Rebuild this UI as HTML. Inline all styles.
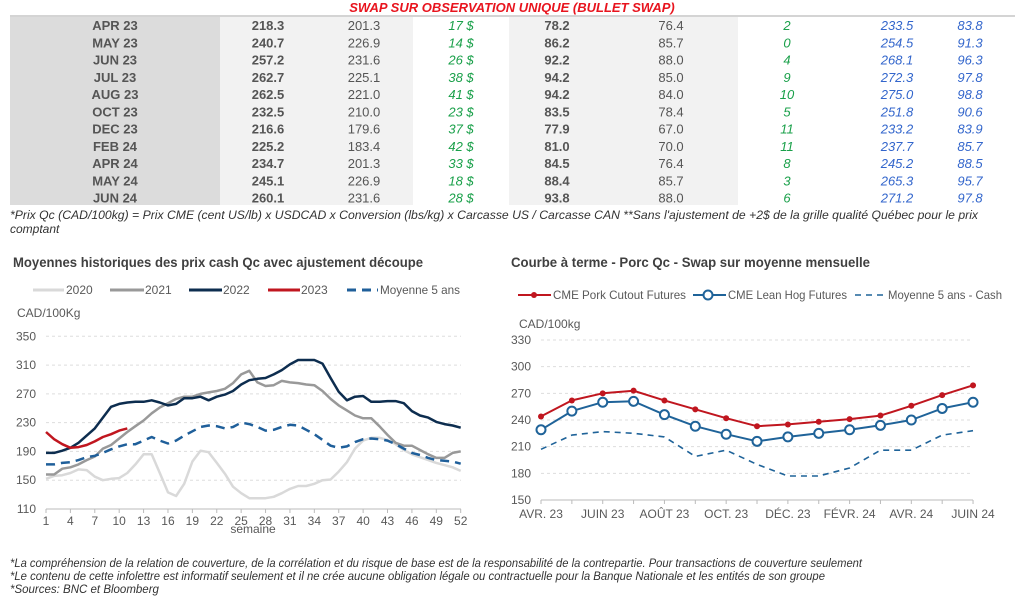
<!DOCTYPE html>
<html><head><meta charset="utf-8"><style>
body{margin:0;width:1024px;height:609px;background:#fff;font-family:"Liberation Sans",sans-serif;position:relative;overflow:hidden}
</style></head><body>
<svg width="1024" height="609" style="position:absolute;left:0;top:0" font-family="Liberation Sans, sans-serif">
<rect x="10" y="17" width="210" height="188" fill="#dcdcdc"/>
<rect x="220" y="17" width="193" height="188" fill="#f2f2f2"/>
<rect x="509" y="17" width="229" height="188" fill="#f2f2f2"/>
<line x1="10" y1="16" x2="1015" y2="16" stroke="#aaa" stroke-width="1"/>
<text x="512" y="12" font-size="13" font-weight="bold" font-style="italic" fill="#e8141e" text-anchor="middle">SWAP SUR OBSERVATION UNIQUE (BULLET SWAP)</text>
<g id="tbl" font-size="13"></g>
<text x="10" y="219" font-size="12" font-style="italic" fill="#333" textLength="968" lengthAdjust="spacingAndGlyphs">*Prix Qc (CAD/100kg) = Prix CME (cent US/lb) x USDCAD x Conversion (lbs/kg) x Carcasse US / Carcasse CAN **Sans l'ajustement de +2$ de la grille qualité Québec pour le prix</text>
<text x="10" y="233" font-size="12" font-style="italic" fill="#333">comptant</text>

<text x="13" y="267" font-size="13.5" font-weight="bold" fill="#404040" textLength="410" lengthAdjust="spacingAndGlyphs">Moyennes historiques des prix cash Qc avec ajustement découpe</text>
<g font-size="12" fill="#595959">
<line x1="33" y1="290" x2="64" y2="290" stroke="#d9d9d9" stroke-width="3"/><text x="66" y="294">2020</text>
<line x1="110" y1="290" x2="144" y2="290" stroke="#999" stroke-width="3"/><text x="145" y="294">2021</text>
<line x1="189" y1="290" x2="222" y2="290" stroke="#0d2d4f" stroke-width="3"/><text x="223" y="294">2022</text>
<line x1="268" y1="290" x2="300" y2="290" stroke="#c0161f" stroke-width="3"/><text x="301" y="294">2023</text>
<line x1="347" y1="290" x2="378" y2="290" stroke="#1f5f9a" stroke-width="3" stroke-dasharray="9,6"/><text x="380" y="294" textLength="80" lengthAdjust="spacingAndGlyphs">Moyenne 5 ans</text>
<text x="17" y="317">CAD/100Kg</text>
</g>
<g id="L"></g>

<text x="511" y="267" font-size="13.5" font-weight="bold" fill="#404040" textLength="359" lengthAdjust="spacingAndGlyphs">Courbe à terme - Porc Qc - Swap sur moyenne mensuelle</text>
<g font-size="12" fill="#595959">
<line x1="518" y1="295" x2="551" y2="295" stroke="#c0161f" stroke-width="2"/><circle cx="534" cy="295" r="3" fill="#c0161f"/><text x="553" y="299" textLength="133" lengthAdjust="spacingAndGlyphs">CME Pork Cutout Futures</text>
<line x1="693" y1="295" x2="726" y2="295" stroke="#1f6399" stroke-width="2"/><circle cx="708" cy="295" r="4.5" fill="#fff" stroke="#1f6399" stroke-width="2"/><text x="728" y="299" textLength="119" lengthAdjust="spacingAndGlyphs">CME Lean Hog Futures</text>
<line x1="855" y1="295" x2="887" y2="295" stroke="#1f6399" stroke-width="1.5" stroke-dasharray="6,5"/><text x="888" y="299" textLength="114" lengthAdjust="spacingAndGlyphs">Moyenne 5 ans - Cash</text>
<text x="519" y="328">CAD/100kg</text>
</g>
<g id="R"></g>

<g font-size="11.5" font-style="italic" fill="#333">
<text x="10" y="567" textLength="852" lengthAdjust="spacingAndGlyphs">*La compréhension de la relation de couverture, de la corrélation et du risque de base est de la responsabilité de la contrepartie. Pour transactions de couverture seulement</text>
<text x="10" y="580" textLength="815" lengthAdjust="spacingAndGlyphs">*Le contenu de cette infolettre est informatif seulement et il ne crée aucune obligation légale ou contractuelle pour la Banque Nationale et les entités de son groupe</text>
<text x="10" y="593">*Sources: BNC et Bloomberg</text>
</g>
</svg>
<script>
var NS="http://www.w3.org/2000/svg";
function el(p,t,a,txt){var e=document.createElementNS(NS,t);for(var k in a)e.setAttribute(k,a[k]);if(txt!=null)e.textContent=txt;p.appendChild(e);return e;}
var rows=[["APR 23","218.3","201.3","17 $","78.2","76.4","2","233.5","83.8"],["MAY 23","240.7","226.9","14 $","86.2","85.7","0","254.5","91.3"],["JUN 23","257.2","231.6","26 $","92.2","88.0","4","268.1","96.3"],["JUL 23","262.7","225.1","38 $","94.2","85.0","9","272.3","97.8"],["AUG 23","262.5","221.0","41 $","94.2","84.0","10","275.0","98.8"],["OCT 23","232.5","210.0","23 $","83.5","78.4","5","251.8","90.6"],["DEC 23","216.6","179.6","37 $","77.9","67.0","11","233.2","83.9"],["FEB 24","225.2","183.4","42 $","81.0","70.0","11","237.7","85.7"],["APR 24","234.7","201.3","33 $","84.5","76.4","8","245.2","88.5"],["MAY 24","245.1","226.9","18 $","88.4","85.7","3","265.3","95.7"],["JUN 24","260.1","231.6","28 $","93.8","88.0","6","271.2","97.8"]];
var cx=[115,268,364,461,557,671,787,897,970];
var T=document.getElementById("tbl");
rows.forEach(function(r,i){var y=30+i*17.25;r.forEach(function(v,j){
 var a={x:cx[j],y:y,"text-anchor":"middle",fill:"#555"};
 if(j==0||j==1||j==4){a["font-weight"]="bold";}
 if(j==3||j==6){a.fill="#1aa04a";a["font-style"]="italic";}
 if(j==7||j==8){a.fill="#3366cc";a["font-style"]="italic";}
 el(T,"text",a,v);});});
var L=document.getElementById("L");
function lx(w){return 46+(w-1)*414.7/51}function ly(v){return 509-(v-110)*172.7/240}
for(var v=150;v<=350;v+=40)el(L,"line",{x1:46,x2:461,y1:ly(v),y2:ly(v),stroke:"#ddd","stroke-dasharray":"3,3"});
el(L,"line",{x1:46,x2:461,y1:509,y2:509,stroke:"#bbb"});
for(var v=110;v<=350;v+=40)el(L,"text",{x:36,y:ly(v)+4,"font-size":12,fill:"#595959","text-anchor":"end"},v);
for(var w=1;w<=52;w+=3){el(L,"line",{x1:lx(w),x2:lx(w),y1:509,y2:513,stroke:"#bbb"});el(L,"text",{x:lx(w),y:525,"font-size":12,fill:"#595959","text-anchor":"middle"},w);}
el(L,"text",{x:253,y:533,"font-size":12,fill:"#595959","text-anchor":"middle"},"semaine");
function pl(g,d,fx,fy,a){var p=d.map(function(v,i){return fx(i).toFixed(1)+","+fy(v).toFixed(1)}).join(" ");a.points=p;a.fill="none";a["stroke-linejoin"]="round";return el(g,"polyline",a);}
var d20=[152,156,157,160,165,164,155,150,152,153,160,172,186,186,160,133,128,145,176,191,189,174,159,141,132,125,125,125,127,132,138,142,142,145,150,151,162,175,194,205,209,209,206,200,192,186,182,178,174,171,168,163];
var d21=[158,158,166,168,172,178,183,194,199,208,217,225,233,243,251,257,263,266,266,270,272,274,277,285,297,302,286,281,282,288,286,285,283,282,274,263,254,247,240,236,236,225,213,202,198,198,192,186,181,181,188,190];
var d22=[188,188,191,195,202,212,222,237,252,256,258,259,259,261,258,254,256,264,264,266,261,266,269,274,283,289,291,292,297,303,311,317,317,317,312,292,273,261,266,267,259,259,260,260,257,246,240,237,231,228,226,223];
var d23=[217,207,200,195,196,199,204,210,214,219,222];
var dav=[172,172,174,175,178,182,184,188,193,197,200,200,205,210,205,201,205,212,218,224,226,225,222,224,230,228,224,219,220,224,227,226,220,214,206,198,195,197,203,207,208,207,205,200,194,188,185,181,178,177,176,173];
var fxL=function(i){return lx(i+1)};
pl(L,d20,fxL,ly,{stroke:"#d9d9d9","stroke-width":2.5});
pl(L,d21,fxL,ly,{stroke:"#999","stroke-width":2.5});
pl(L,d22,fxL,ly,{stroke:"#0d2d4f","stroke-width":2.5});
pl(L,dav,fxL,ly,{stroke:"#1f5f9a","stroke-width":2.5,"stroke-dasharray":"9,6"});
pl(L,d23,fxL,ly,{stroke:"#c0161f","stroke-width":2.5});
var R=document.getElementById("R");
function rx(i){return 541+i*30.86}function ry(v){return 500-(v-150)*160/180}
for(var v=180;v<=330;v+=30)el(R,"line",{x1:541,x2:973,y1:ry(v),y2:ry(v),stroke:"#ddd","stroke-dasharray":"3,3"});
el(R,"line",{x1:541,x2:973,y1:500,y2:500,stroke:"#bbb"});
for(var v=150;v<=330;v+=30)el(R,"text",{x:531,y:ry(v)+4,"font-size":12,fill:"#595959","text-anchor":"end"},v);
var ml=["AVR. 23","JUIN 23","AOÛT 23","OCT. 23","DÉC. 23","FÉVR. 24","AVR. 24","JUIN 24"];
for(var i=0;i<15;i++){el(R,"line",{x1:rx(i),x2:rx(i),y1:500,y2:504,stroke:"#bbb"});if(i%2==0)el(R,"text",{x:rx(i),y:518,"font-size":12,fill:"#595959","text-anchor":"middle"},ml[i/2]);}
var rr=[244,262,270,273,262,252,242,233,235,238,241,245,256,268,279];
var rb=[229,250,260,261,246,233,224,216,221,225,229,234,240,253,260];
var rd=[207,223,227,225,221,199,206,190,177,177,186,206,206,223,228];
pl(R,rd,rx,ry,{stroke:"#1f6399","stroke-width":1.6,"stroke-dasharray":"6,5"});
pl(R,rr,rx,ry,{stroke:"#c0161f","stroke-width":2});
pl(R,rb,rx,ry,{stroke:"#1f6399","stroke-width":2});
rr.forEach(function(v,i){el(R,"circle",{cx:rx(i),cy:ry(v),r:3,fill:"#c0161f"})});
rb.forEach(function(v,i){el(R,"circle",{cx:rx(i),cy:ry(v),r:4.5,fill:"#fff",stroke:"#1f6399","stroke-width":2})});
</script>
</body></html>
